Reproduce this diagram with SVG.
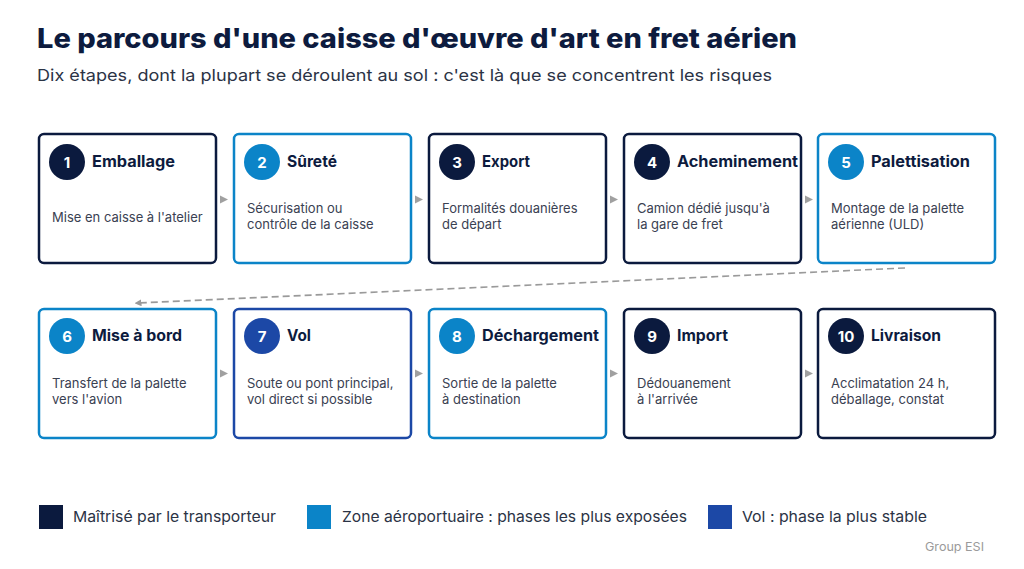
<svg xmlns="http://www.w3.org/2000/svg" width="1024" height="569" viewBox="0 0 1024 569">
<style>
.t{font-family:Inter,"Noto Sans",sans-serif;}
.h1{font-size:27px;font-weight:800;fill:#0d1b3e;}
.sub{font-size:16.5px;fill:#2b3345;}
.box{fill:#fff;stroke-width:2.5;}
.dk{stroke:#0b1a3e;} .ab{stroke:#0b84c8;} .fb{stroke:#1c48a6;}
.cdk{fill:#0b1a3e;} .cab{fill:#0b84c8;} .cfb{fill:#1c48a6;}
.num{font-size:15px;font-weight:700;fill:#fff;text-anchor:middle;}
.ttl{font-size:15.5px;font-weight:700;fill:#0d1b3e;}
.body{font-size:13px;fill:#3a4152;}
.leg{font-size:15px;fill:#2b3345;}
.tri{fill:#a0a0a0;}
</style>
<defs>
<marker id="ah" viewBox="0 0 10 10" refX="5" refY="5" markerWidth="7" markerHeight="7" orient="auto-start-reverse" markerUnits="userSpaceOnUse"><path d="M0,0 L10,5 L0,10 z" fill="#9a9a9a"/></marker>
</defs>
<rect width="1024" height="569" fill="#fff"/>
<text class="t h1" x="37" y="48" textLength="760" lengthAdjust="spacingAndGlyphs">Le parcours d'une caisse d'œuvre d'art en fret aérien</text>
<text class="t sub" x="37" y="81" textLength="735" lengthAdjust="spacingAndGlyphs">Dix étapes, dont la plupart se déroulent au sol : c'est là que se concentrent les risques</text>

<g id="connectors">
<path class="tri" d="M220,195.5 L228,199.5 L220,203.5 z"/>
<path class="tri" d="M415,195.5 L423,199.5 L415,203.5 z"/>
<path class="tri" d="M610,195.5 L618,199.5 L610,203.5 z"/>
<path class="tri" d="M805,195.5 L813,199.5 L805,203.5 z"/>
<path class="tri" d="M220,369.5 L228,373.5 L220,377.5 z"/>
<path class="tri" d="M415,369.5 L423,373.5 L415,377.5 z"/>
<path class="tri" d="M610,369.5 L618,373.5 L610,377.5 z"/>
<path class="tri" d="M805,369.5 L813,373.5 L805,377.5 z"/>
<line x1="905" y1="268" x2="138" y2="303" stroke="#9a9a9a" stroke-width="1.6" stroke-dasharray="7,4" marker-end="url(#ah)"/>
</g>

<g id="n1">
<rect class="box dk" x="39" y="134" width="177" height="129" rx="5"/>
<circle class="cdk" cx="67" cy="162" r="18"/>
<text class="t num" x="67" y="167.5">1</text>
<text class="t ttl" x="92" y="167" textLength="83" lengthAdjust="spacingAndGlyphs">Emballage</text>
<text class="t body" x="52" y="222">Mise en caisse à l'atelier</text>
</g>
<g id="n2">
<rect class="box ab" x="234" y="134" width="177" height="129" rx="5"/>
<circle class="cab" cx="262" cy="162" r="18"/>
<text class="t num" x="262" y="167.5">2</text>
<text class="t ttl" x="287" y="167" textLength="50" lengthAdjust="spacingAndGlyphs">Sûreté</text>
<text class="t body" x="247" y="213">Sécurisation ou</text>
<text class="t body" x="247" y="229">contrôle de la caisse</text>
</g>
<g id="n3">
<rect class="box dk" x="429" y="134" width="177" height="129" rx="5"/>
<circle class="cdk" cx="457" cy="162" r="18"/>
<text class="t num" x="457" y="167.5">3</text>
<text class="t ttl" x="482" y="167" textLength="48" lengthAdjust="spacingAndGlyphs">Export</text>
<text class="t body" x="442" y="213">Formalités douanières</text>
<text class="t body" x="442" y="229">de départ</text>
</g>
<g id="n4">
<rect class="box dk" x="624" y="134" width="177" height="129" rx="5"/>
<circle class="cdk" cx="652" cy="162" r="18"/>
<text class="t num" x="652" y="167.5">4</text>
<text class="t ttl" x="677" y="167" textLength="121" lengthAdjust="spacingAndGlyphs">Acheminement</text>
<text class="t body" x="637" y="213">Camion dédié jusqu'à</text>
<text class="t body" x="637" y="229">la gare de fret</text>
</g>
<g id="n5">
<rect class="box ab" x="818" y="134" width="177" height="129" rx="5"/>
<circle class="cab" cx="846" cy="162" r="18"/>
<text class="t num" x="846" y="167.5">5</text>
<text class="t ttl" x="871" y="167" textLength="99" lengthAdjust="spacingAndGlyphs">Palettisation</text>
<text class="t body" x="831" y="213">Montage de la palette</text>
<text class="t body" x="831" y="229">aérienne (ULD)</text>
</g>

<g id="n6">
<rect class="box ab" x="39" y="309" width="177" height="129" rx="5"/>
<circle class="cab" cx="67" cy="336" r="18"/>
<text class="t num" x="67" y="341.5">6</text>
<text class="t ttl" x="92" y="341" textLength="90" lengthAdjust="spacingAndGlyphs">Mise à bord</text>
<text class="t body" x="52" y="388">Transfert de la palette</text>
<text class="t body" x="52" y="404">vers l'avion</text>
</g>
<g id="n7">
<rect class="box fb" x="234" y="309" width="177" height="129" rx="5"/>
<circle class="cfb" cx="262" cy="336" r="18"/>
<text class="t num" x="262" y="341.5">7</text>
<text class="t ttl" x="287" y="341" textLength="24" lengthAdjust="spacingAndGlyphs">Vol</text>
<text class="t body" x="247" y="388">Soute ou pont principal,</text>
<text class="t body" x="247" y="404">vol direct si possible</text>
</g>
<g id="n8">
<rect class="box ab" x="429" y="309" width="177" height="129" rx="5"/>
<circle class="cab" cx="457" cy="336" r="18"/>
<text class="t num" x="457" y="341.5">8</text>
<text class="t ttl" x="482" y="341" textLength="117" lengthAdjust="spacingAndGlyphs">Déchargement</text>
<text class="t body" x="442" y="388">Sortie de la palette</text>
<text class="t body" x="442" y="404">à destination</text>
</g>
<g id="n9">
<rect class="box dk" x="624" y="309" width="177" height="129" rx="5"/>
<circle class="cdk" cx="652" cy="336" r="18"/>
<text class="t num" x="652" y="341.5">9</text>
<text class="t ttl" x="677" y="341" textLength="51" lengthAdjust="spacingAndGlyphs">Import</text>
<text class="t body" x="637" y="388">Dédouanement</text>
<text class="t body" x="637" y="404">à l'arrivée</text>
</g>
<g id="n10">
<rect class="box dk" x="818" y="309" width="177" height="129" rx="5"/>
<circle class="cdk" cx="846" cy="336" r="18"/>
<text class="t num" x="846" y="341.5">10</text>
<text class="t ttl" x="871" y="341" textLength="70" lengthAdjust="spacingAndGlyphs">Livraison</text>
<text class="t body" x="831" y="388">Acclimatation 24 h,</text>
<text class="t body" x="831" y="404">déballage, constat</text>
</g>

<g id="legend">
<rect x="39" y="505" width="24" height="24" fill="#0b1a3e"/>
<text class="t leg" x="73" y="522" textLength="203" lengthAdjust="spacingAndGlyphs">Maîtrisé par le transporteur</text>
<rect x="307" y="505" width="24" height="24" fill="#0b84c8"/>
<text class="t leg" x="342" y="522" textLength="345" lengthAdjust="spacingAndGlyphs">Zone aéroportuaire : phases les plus exposées</text>
<rect x="708" y="505" width="24" height="24" fill="#1c48a6"/>
<text class="t leg" x="742" y="522" textLength="185" lengthAdjust="spacingAndGlyphs">Vol : phase la plus stable</text>
</g>
<text class="t" x="925" y="551" font-size="12" fill="#9a9a9a" textLength="59" lengthAdjust="spacingAndGlyphs">Group ESI</text>
</svg>
